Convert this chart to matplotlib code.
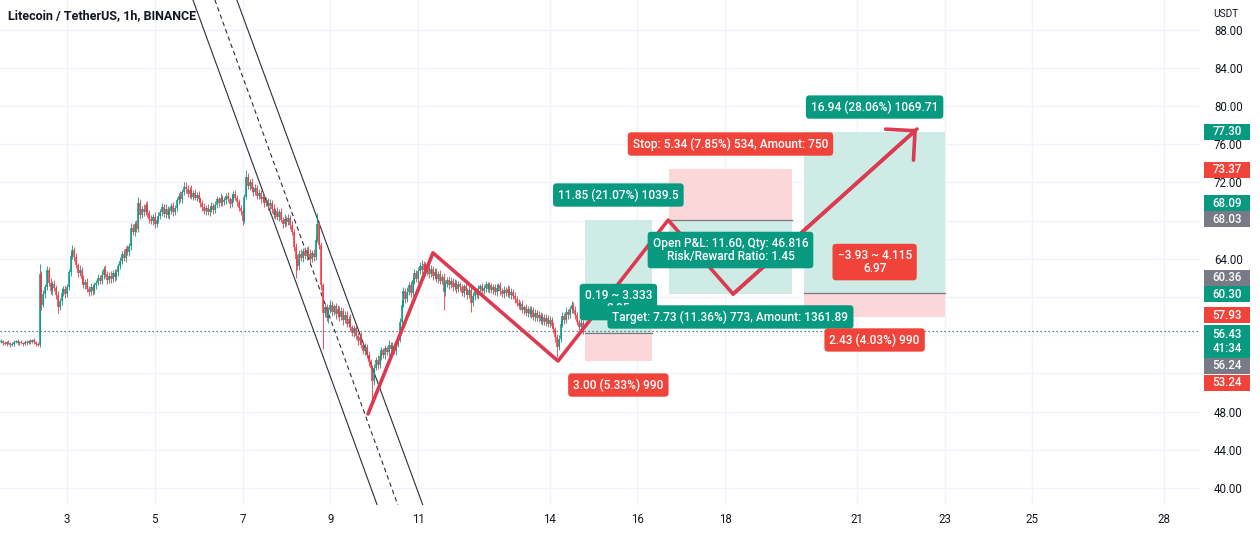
import matplotlib.pyplot as plt
import matplotlib.transforms as mtransforms
from matplotlib.patches import Rectangle

plt.rcParams['font.family'] = ['Roboto', 'DejaVu Sans']

TEAL = '#089981'
RED = '#f23645'
LRED = '#f0443a'
GRAY = '#787b86'
INK = '#131722'

title = "Litecoin / TetherUS, 1h, BINANCE"

# hourly candles, first one at day 1.5 ; wicks in tenths of a dollar
start_day = 1.5
close = [
    55.4, 55.2, 55.1, 55.3, 55.2, 55.0, 55.1, 55.3, 55.4, 55.2, 55.3, 55.2, 55.1, 55.3, 55.2, 55.4, 55.3, 55.5, 55.3, 55.1, 55.0,
    62.4,
    59.2, 60.3, 61.0, 62.8, 61.5, 60.6, 61.4, 60.9, 60.2, 58.9, 59.6, 60.4, 60.8, 60.3, 61.0,
    62.6, 64.3, 64.9, 64.2,
    63.3, 62.5, 62.8, 61.9, 61.2, 61.6, 60.8, 60.5, 61.0, 60.6, 61.2, 61.5,
    62.0, 61.7, 62.3, 62.9, 62.4, 61.8, 62.2, 61.9, 62.5, 62.1, 62.6, 63.2,
    63.8, 64.5, 64.1, 65.0, 64.7, 65.3,
    67.2, 66.8, 67.6, 67.1, 69.8,
    68.6, 69.2, 68.9, 69.6, 68.8, 68.2, 67.9, 68.4, 67.6, 68.1, 68.5, 68.9, 69.4, 68.7, 69.2, 68.6, 69.0, 69.5, 68.9, 69.3,
    70.1, 70.6, 70.2, 71.0, 71.5, 71.3,
    70.8, 71.2, 70.5, 70.9, 70.4, 70.7, 70.2, 69.8,
    69.4, 69.0, 69.3, 68.9, 69.2, 69.5, 69.1, 69.6,
    70.2, 69.8, 70.4, 69.9, 70.1, 70.6, 70.2, 69.7, 70.3, 70.8, 70.4, 69.9, 69.3, 69.0,
    68.0, 70.5, 72.6,
    71.6, 72.0, 71.3, 71.0, 71.4, 70.6, 70.9, 70.2, 70.5, 69.8, 70.1, 69.5,
    69.8, 69.2, 68.6, 69.0, 68.4, 68.9, 68.1, 67.6, 68.2, 67.8, 68.3, 67.5, 66.8,
    65.2, 64.0, 63.2,
    64.5, 64.1, 64.8, 64.3, 64.9, 64.5, 64.0, 64.6, 64.2,
    66.0, 67.6,
    65.4, 61.2, 58.3,
    58.9, 57.8, 58.6, 59.2, 58.4, 59.0, 58.2, 58.7, 57.9, 58.5, 57.6, 58.1,
    57.2, 57.7, 56.8, 56.2, 56.7, 55.9, 55.4, 55.8, 55.0, 54.3, 54.8, 53.9, 53.2, 52.6,
    51.2,
    52.6, 53.4, 52.9, 53.8, 54.4, 53.9, 54.6, 54.2, 55.0, 54.5, 54.9, 54.3, 55.1, 55.6,
    57.4, 59.2, 60.6, 59.8, 60.5,
    61.2, 60.4, 61.8, 62.5, 61.9, 62.7, 63.2, 62.8, 63.4, 62.6, 63.1, 62.4, 62.9, 62.2, 62.6,
    61.9, 62.4, 61.7, 62.1, 60.5, 61.3, 61.8, 61.2,
    61.7, 61.0, 61.5, 60.8, 61.3, 61.0, 60.4, 61.1, 60.6, 60.2, 60.7, 59.4, 60.1, 60.6,
    60.2, 60.8, 61.1, 60.6, 60.9, 61.3, 60.8, 61.2, 60.7, 61.0, 60.5, 60.9, 61.2, 60.6, 60.3, 60.7, 60.4, 60.8, 60.2, 60.5, 60.1, 59.8,
    59.4, 59.0, 59.3, 58.6, 58.9, 58.3, 58.7,
    58.2, 58.6, 57.9, 58.3, 57.8, 58.1, 57.5, 57.9, 57.4, 57.8, 57.2, 57.6, 57.0, 56.6, 55.8,
    54.8, 55.6, 57.2,
    58.0, 57.6, 58.4, 58.1, 58.7, 59.2, 58.6, 58.1, 57.4,
    56.9, 57.3, 56.43,
]
wick_up = [
    2, 1, 2, 1, 2, 1, 2, 2, 1, 2, 1, 2, 1, 2, 2, 1, 2, 1, 2, 1, 2,
    10,
    3, 4, 3, 4, 3, 5, 3, 4, 3, 4, 3, 5, 3, 4, 3,
    3, 4, 5, 3,
    4, 3, 5, 3, 4, 3, 4, 3, 5, 3, 4, 3,
    4, 3, 5, 3, 4, 3, 4, 5, 3, 4, 3, 4,
    4, 3, 5, 3, 4, 3,
    5, 4, 3, 5, 7,
    4, 3, 5, 3, 4, 3, 4, 3, 5, 3, 4, 3, 4, 3, 5, 3, 4, 3, 4, 3,
    4, 3, 5, 3, 5, 5,
    4, 3, 5, 3, 4, 3, 4, 3,
    3, 4, 3, 4, 3, 4, 3, 4,
    4, 3, 5, 3, 4, 3, 4, 3, 5, 3, 4, 3, 4, 3,
    3, 3, 7,
    4, 3, 5, 3, 4, 3, 4, 3, 5, 3, 4, 3,
    4, 3, 5, 3, 4, 3, 4, 3, 5, 3, 4, 3, 4,
    3, 4, 5,
    4, 5, 3, 4, 3, 4, 5, 3, 4,
    4, 12,
    3, 4, 3,
    5, 4, 3, 5, 4, 3, 4, 5, 3, 4, 3, 4,
    4, 3, 5, 3, 4, 3, 4, 3, 5, 3, 4, 3, 4, 3,
    3,
    4, 3, 5, 3, 4, 3, 4, 3, 5, 3, 4, 3, 4, 3,
    4, 5, 4, 3, 5,
    4, 5, 3, 4, 3, 4, 5, 7, 4, 3, 4, 3, 4, 3, 4,
    4, 3, 4, 3, 4, 5, 3, 4,
    4, 3, 4, 3, 4, 3, 4, 3, 4, 3, 4, 3, 4, 3,
    3, 4, 3, 4, 3, 4, 3, 4, 3, 4, 3, 4, 3, 4, 3, 4, 3, 4, 3, 4, 3, 4,
    3, 4, 3, 4, 3, 4, 3,
    3, 4, 3, 4, 3, 4, 3, 4, 3, 4, 3, 4, 3, 4, 3,
    3, 4, 5,
    4, 3, 5, 3, 4, 4, 3, 4, 3,
    3, 4, 3,
]
wick_dn = [
    1, 2, 1, 2, 1, 2, 1, 2, 1, 2, 2, 1, 2, 1, 2, 1, 2, 1, 2, 2, 1,
    2,
    6, 3, 4, 3, 4, 3, 4, 3, 4, 6, 3, 4, 3, 4, 3,
    3, 4, 3, 4,
    3, 4, 3, 4, 3, 4, 3, 4, 3, 4, 3, 4,
    3, 4, 3, 4, 3, 4, 3, 4, 3, 4, 3, 4,
    3, 4, 3, 4, 3, 4,
    4, 3, 4, 3, 3,
    4, 3, 4, 3, 4, 5, 3, 4, 4, 3, 4, 3, 4, 3, 4, 3, 4, 3, 4, 3,
    3, 4, 3, 4, 3, 4,
    3, 4, 3, 4, 3, 4, 3, 4,
    4, 3, 4, 3, 4, 3, 4, 3,
    3, 4, 3, 4, 3, 4, 3, 4, 3, 4, 3, 4, 3, 4,
    5, 3, 3,
    3, 4, 3, 4, 3, 4, 3, 4, 3, 4, 3, 4,
    3, 4, 3, 4, 3, 4, 3, 4, 3, 4, 3, 4, 3,
    4, 20, 4,
    4, 3, 4, 3, 4, 3, 4, 3, 4,
    3, 3,
    4, 5, 38,
    4, 3, 5, 3, 4, 3, 5, 3, 4, 3, 5, 3,
    4, 3, 4, 3, 4, 3, 4, 3, 4, 3, 4, 3, 4, 3,
    20,
    4, 3, 4, 3, 4, 3, 4, 3, 4, 3, 4, 3, 4, 3,
    3, 4, 3, 4, 3,
    3, 4, 3, 4, 3, 4, 3, 4, 3, 4, 3, 4, 3, 4, 3,
    3, 4, 3, 4, 19, 4, 3, 4,
    3, 4, 3, 4, 3, 4, 3, 4, 3, 4, 3, 10, 3, 4,
    3, 4, 3, 4, 3, 4, 3, 4, 3, 4, 3, 4, 3, 4, 3, 4, 3, 4, 3, 4, 3, 4,
    4, 3, 4, 3, 4, 3, 4,
    3, 4, 3, 4, 3, 4, 3, 4, 3, 4, 3, 4, 3, 4, 5,
    11, 4, 3,
    3, 4, 3, 4, 3, 4, 3, 4, 3,
    4, 3, 3,
]
assert len(close) == len(wick_up) == len(wick_dn), (len(close), len(wick_up), len(wick_dn))
first_open = 55.3
last_price = 56.43

# parallel channel (day, price)
chan_left = ([5.87, 10.07], [91.1, 38.2])
chan_mid = ([6.37, 10.54], [91.1, 38.2])
chan_right = ([6.87, 11.11], [91.1, 38.2])

# zigzag drawing
zig_days = [9.86, 11.34, 14.19, 16.70, 18.18, 22.37]
zig_prices = [47.74, 64.61, 53.29, 68.05, 60.30, 77.58]

# long / short position tools
pos_start = [14.80, 16.72, 19.80]
pos_end = [16.33, 19.52, 23.01]
pos_entry = [56.24, 68.03, 60.36]
pos_target = [68.09, 60.30, 77.30]
pos_stop = [53.24, 73.37, 57.93]

label_text = [
    "11.85 (21.07%) 1039.5",
    "3.00 (5.33%) 990",
    "0.19 ~ 3.333\n2.05",
    "Stop: 5.34 (7.85%) 534, Amount: 750",
    "Target: 7.73 (11.36%) 773, Amount: 1361.89",
    "Open P&L: 11.60, Qty: 46.816\nRisk/Reward Ratio: 1.45",
    "16.94 (28.06%) 1069.71",
    "2.43 (4.03%) 990",
    "\u22123.93 ~ 4.115\n6.97",
]
label_pos = [0, 0, 0, 1, 1, 1, 2, 2, 2]
label_color = [TEAL, LRED, TEAL, LRED, TEAL, TEAL, TEAL, LRED, LRED]
label_y = [70.67, 50.77, 59.46, 76.01, 57.90, 64.91, 79.88, 55.49, 63.65]

# price scale tags
tag_text = ["77.30", "73.37", "68.09", "68.03", "60.36", "60.30", "57.93", "56.43\n41:34", "56.24", "53.24"]
tag_color = [TEAL, LRED, TEAL, GRAY, GRAY, TEAL, LRED, TEAL, GRAY, LRED]
tag_y = [77.30, 73.30, 69.78, 68.11, 62.01, 60.27, 58.10, 55.33, 52.80, 51.02]

x_ticks = [3, 5, 7, 9, 11, 14, 16, 18, 21, 23, 25, 28]
y_ticks = [40, 44, 48, 52, 56, 60, 64, 68, 72, 76, 80, 84, 88]
y_labels = ["40.00", "44.00", "48.00", "", "", "", "64.00", "", "72.00", "76.00", "80.00", "84.00", "88.00"]

fig = plt.figure(figsize=(12.6, 5.33), dpi=100)
ax = fig.add_axes([0, 28 / 533, 1200 / 1260, 505 / 533])
ax.set_xlim(1.473, 28.82)
ax.set_ylim(38.21, 91.09)
for s in ax.spines.values():
    s.set_visible(False)
ax.set_axisbelow(True)
ax.grid(color='#f0f3fa', lw=1)

ax.set_xticks(x_ticks, labels=[str(d) for d in x_ticks])
ax.yaxis.tick_right()
ax.set_yticks(y_ticks, labels=y_labels)
ax.tick_params(axis='x', length=0, pad=6, labelsize=8.3, labelcolor=INK)
ax.tick_params(axis='y', length=0, pad=10, labelsize=8.3, labelcolor=INK)

# candles
opens = [first_open] + close[:-1]
for i, (o, c, u, d) in enumerate(zip(opens, close, wick_up, wick_dn)):
    x = start_day + i / 24
    col = TEAL if c >= o else RED
    hi = max(o, c) + u / 10
    lo = min(o, c) - d / 10
    ax.vlines(x, lo, hi, color=col, lw=0.6, zorder=3)
    top, bot = max(o, c), min(o, c)
    if top - bot < 0.12:
        top = bot + 0.12
    ax.vlines(x, bot, top, color=col, lw=1.1, zorder=3)

ax.axhline(last_price, color='#2c5f58', lw=0.9, ls=(0, (1, 2.2)), zorder=2)

# channel
ax.plot(*chan_left, color='#2a2e39', lw=0.8, zorder=2)
ax.plot(*chan_right, color='#2a2e39', lw=0.8, zorder=2)
ax.plot(*chan_mid, color='#2a2e39', lw=0.8, ls=(0, (4, 3)), zorder=2)

# position zones
for s, e, en, tg, st in zip(pos_start, pos_end, pos_entry, pos_target, pos_stop):
    ax.add_patch(Rectangle((s, min(en, tg)), e - s, abs(tg - en), fc='#ceebe6', ec='none', zorder=1))
    ax.add_patch(Rectangle((s, min(en, st)), e - s, abs(st - en), fc='#fcd7da', ec='none', zorder=1))
    ax.plot([s, e], [en, en], color=GRAY, lw=0.9, zorder=1.5)

# zigzag with arrow
zz = '#dc3a50'
ax.plot(zig_days, zig_prices, color=zz, lw=2.6, solid_capstyle='round', solid_joinstyle='round', zorder=4)
ax.annotate('', xy=(zig_days[-1], zig_prices[-1]), xytext=(zig_days[-2], zig_prices[-2]),
            arrowprops=dict(arrowstyle='->,head_length=1.5,head_width=1.5', color=zz, lw=2.6,
                            shrinkA=0, shrinkB=0, mutation_scale=10), zorder=4)

# labels
for k, (t, p, c, y) in enumerate(zip(label_text, label_pos, label_color, label_y)):
    xc = (pos_start[p] + pos_end[p]) / 2
    ax.text(xc, y, t, ha='center', va='center', color='white', fontsize=8.6, weight='medium',
            linespacing=1.05, zorder=5 + k * 0.01,
            bbox=dict(boxstyle='round,pad=0.42,rounding_size=0.3', fc=c, ec='none'))

# price scale tags
trans = mtransforms.blended_transform_factory(ax.transAxes, ax.transData)
for t, c, y in zip(tag_text, tag_color, tag_y):
    h = 3.45 if '\n' in t else 1.68
    ax.add_patch(Rectangle((1204 / 1200, y - h / 2), 46 / 1200, h, transform=trans, fc=c, ec='none',
                           clip_on=False, zorder=6))
    ax.text(1227 / 1200, y, t, transform=trans, ha='center', va='center', color='white', fontsize=8.3,
            weight='medium', linespacing=1.15, clip_on=False, zorder=7)

fig.text(8 / 1260, 1 - 16 / 533, title, fontsize=9, weight='semibold', color=INK, va='center')
fig.text(1213 / 1260, 1 - 14 / 533, "USDT", fontsize=7.3, color=INK, va='center')

fig.savefig('out.png', dpi=100)
